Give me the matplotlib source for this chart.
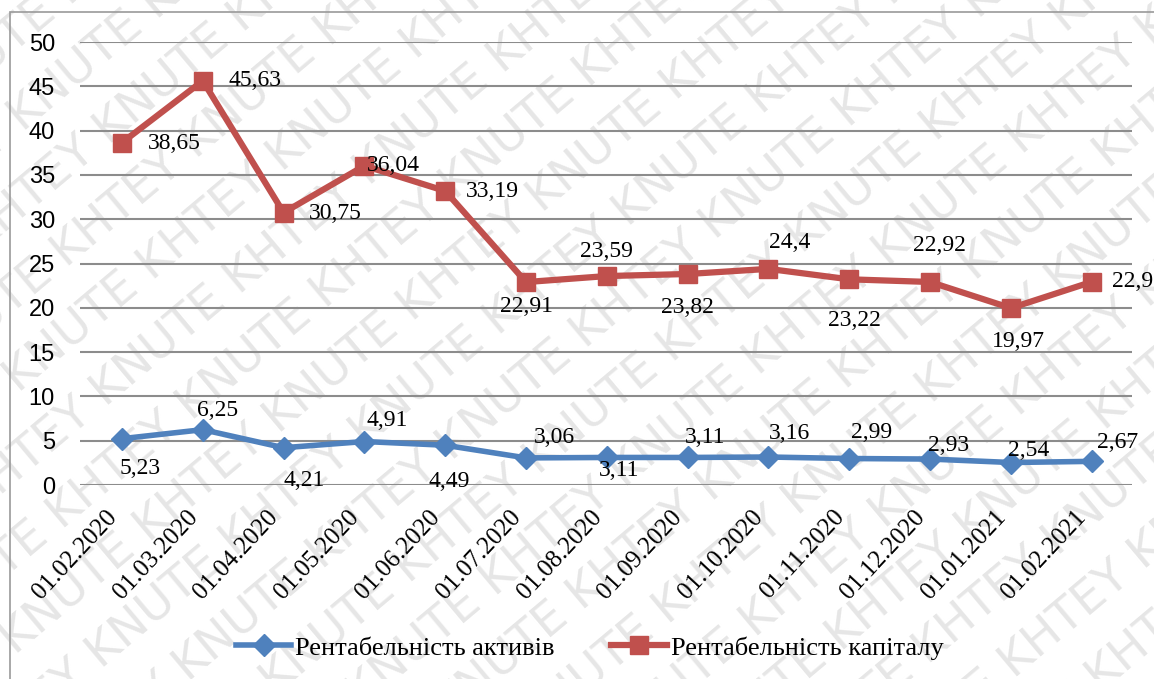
import numpy as np
import matplotlib.pyplot as plt
import matplotlib.transforms as mtransforms
from matplotlib.patches import Rectangle

dates = ['01.02.2020', '01.03.2020', '01.04.2020', '01.05.2020', '01.06.2020',
         '01.07.2020', '01.08.2020', '01.09.2020', '01.10.2020', '01.11.2020',
         '01.12.2020', '01.01.2021', '01.02.2021']
roa = [5.23, 6.25, 4.21, 4.91, 4.49, 3.06, 3.11, 3.11, 3.16, 2.99, 2.93, 2.54, 2.67]
roe = [38.65, 45.63, 30.75, 36.04, 33.19, 22.91, 23.59, 23.82, 24.4, 23.22, 22.92, 19.97, 22.93]

# label offsets in pixels (dx, dy) for each point
roa_off = [(18, -30), (15, 19), (21, -33), (23, 21), (4, -36), (28, 20), (12, -13),
           (17, 20), (21, 24), (22, 26), (19, 14), (18, 12), (26, 19)]
roe_off = [(52, -1), (52, 0), (52, -1), (29, 0), (47, 0), (0, -24), (0, 25),
           (0, -33), (21, 26), (5, -41), (9, 36), (8, -33), (47, 0)]

blue = '#4F81BD'
red = '#C0504D'

fig = plt.figure(figsize=(11.54, 6.79), dpi=100)
ax = fig.add_axes([0.0693, 0.2857, 0.9117, 0.6523])
ax.set_facecolor('none')

x = np.arange(len(dates))
ax.plot(x, roa, color=blue, lw=4, marker='D', ms=11, label='Рентабельність активів')
ax.plot(x, roe, color=red, lw=4.5, marker='s', ms=13, label='Рентабельність капіталу')

def fmt(v):
    return ('%g' % v).replace('.', ',')

for xi, v, (dx, dy) in zip(x, roa, roa_off):
    ax.annotate(fmt(v), (xi, v), xytext=(dx, dy), textcoords='offset pixels',
                ha='center', va='center', fontsize=17, family='Liberation Serif',
                annotation_clip=False)
for xi, v, (dx, dy) in zip(x, roe, roe_off):
    ax.annotate(fmt(v), (xi, v), xytext=(dx, dy), textcoords='offset pixels',
                ha='center', va='center', fontsize=17, family='Liberation Serif',
                annotation_clip=False)

ax.set_xlim(-0.52, 12.5)
ax.set_ylim(0, 50)
ax.set_yticks(range(0, 51, 5))
ax.yaxis.grid(True, color='#8c8c8c', lw=1.5)
ax.set_axisbelow(True)
for s in ax.spines.values():
    s.set_visible(False)
ax.tick_params(axis='both', length=0)
ax.tick_params(axis='y', labelsize=17, pad=18)
for t in ax.get_yticklabels():
    t.set_family('Liberation Sans')
ax.set_xticks(x)
ax.set_xticklabels(dates, rotation=47, ha='right', rotation_mode='anchor',
                   fontsize=18, family='Liberation Serif')
ax.tick_params(axis='x', pad=15)
shift = mtransforms.ScaledTranslation(-17 / 100, 0, fig.dpi_scale_trans)
for t in ax.get_xticklabels():
    t.set_transform(t.get_transform() + shift)

fig.legend(loc='center', bbox_to_anchor=(0.511, 0.046), ncol=2, frameon=False,
           prop={'family': 'Liberation Serif', 'size': 19}, handlelength=2.1,
           handletextpad=0.15, columnspacing=2.15)

# chart area border
fig.patches.append(Rectangle((10 / 1154, -0.1), 1.2, 1 - 12 / 679 + 0.1,
                             transform=fig.transFigure, fill=False,
                             edgecolor='#9a9a9a', lw=1.2))

# diagonal watermark behind the chart
wm = 'KHTEY KNUTE ' * 8
for k in range(-14, 14):
    fig.text(0.5 + k * 0.075, 0.5 - k * 0.02, wm, rotation=40, ha='center', va='center',
             fontsize=34, color='#e6e6e6', family='DejaVu Sans',
             rotation_mode='anchor', zorder=-1)

fig.savefig('out.png', dpi=100)
